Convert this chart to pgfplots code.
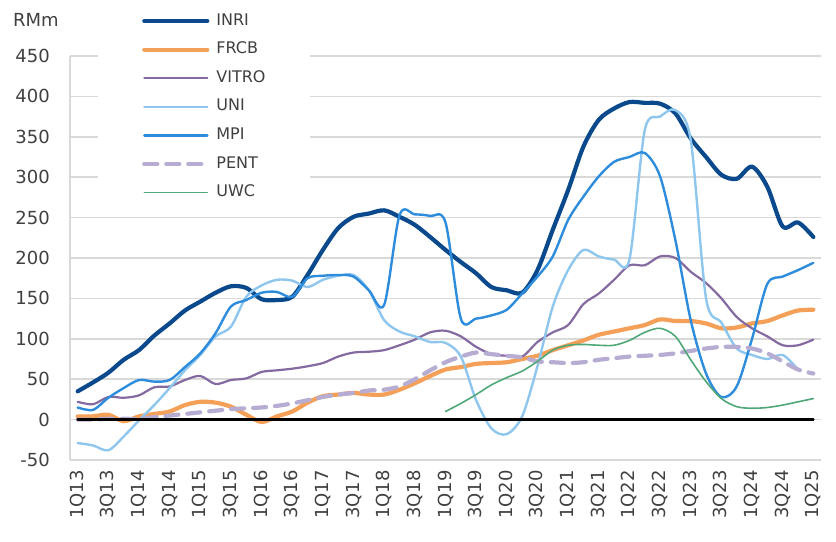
\documentclass[border=0pt]{standalone}
\usepackage{pgfplots}
\pgfplotsset{compat=1.18}
\usepackage{pgfplotstable}
\usepackage{fontspec}
\setmainfont{DejaVu Sans}

\definecolor{inri}{RGB}{10,74,140}
\definecolor{frcb}{RGB}{245,160,88}
\definecolor{vitro}{RGB}{132,106,160}
\definecolor{uni}{RGB}{142,198,238}
\definecolor{mpi}{RGB}{46,140,220}
\definecolor{pent}{RGB}{183,172,209}
\definecolor{uwc}{RGB}{80,168,120}
\definecolor{gridgray}{RGB}{217,217,217}
\definecolor{txtgray}{RGB}{64,64,64}

\newcommand\tf{\fontsize{18bp}{21bp}\selectfont}
\newcommand\lf{\fontsize{16bp}{19bp}\selectfont}

% quarterly values, 1Q13 = 0 ... 1Q25 = 48
\pgfplotstableread{
i  INRI FRCB VITRO UNI MPI PENT UWC
0  35   4    22   -29  15  0   nan
1  46   4    19   -32  12  0   nan
2  58   6    28   -38  27  1   nan
3  74   -2   27   -21  39  1   nan
4  86   4    30   -1   49  1   nan
5  104  7    40   18   47  3   nan
6  119  10   41   39   49  5   nan
7  135  18   49   61   65  7   nan
8  146  22   54   80   82  9   nan
9  157  21   44   103  107 11  nan
10 165  16   49   115  140 13  nan
11 163  6    51   152  148 14  nan
12 149  -3   59   166  157 15  nan
13 148  4    61   173  158 17  nan
14 152  10   63   172  152 20  nan
15 179  21   66   164  175 24  nan
16 210  29   70   173  178 28  nan
17 237  31   78   178  179 31  nan
18 251  33   83   179  177 33  nan
19 255  31   84   160  160 36  nan
20 259  31   86   123  142 37  nan
21 251  37   92   109  253 41  nan
22 241  45   99   103  254 50  nan
23 226  54   108  96   252 61  nan
24 210  62   110  95   244 71  10
25 195  65   103  78   125 78  20
26 181  69   90   24   125 83  31
27 164  70   81   -11  129 81  43
28 160  71   79   -18  136 79  52
29 157  75   78   4    156 77  60
30 185  79   96   66   177 72  72
31 235  86   108  140  202 71  86
32 284  92   117  185  247 70  92
33 338  98   143  210  276 71  93
34 371  105  156  202  301 74  92
35 385  109  173  198  319 76  92
36 393  113  191  198  325 78  98
37 392  117  191  358  330 79  108
38 391  124  202  375  301 80  113
39 379  122  200  383  222 82  103
40 348  122  183  346  123 85  74
41 325  119  169  150  57  88  47
42 303  113  150  120  28  90  26
43 298  114  127  88   41  90  16
44 313  119  113  80   100 88  14
45 288  122  103  75   168 82  15
46 239  129  92   80   177 72  18
47 244  135  92   62   185 62  22
48 226  136  99   nan  194 57  26
}\data

\begin{document}
\begin{tikzpicture}
\begin{axis}[
    at={(0,0)}, anchor=south west,
    scale only axis, width=751bp, height=404bp,
    xmin=-0.5, xmax=48.5, ymin=-50, ymax=450,
    xtick={0,2,...,48},
    xticklabels={1Q13,3Q13,1Q14,3Q14,1Q15,3Q15,1Q16,3Q16,1Q17,3Q17,1Q18,3Q18,1Q19,3Q19,1Q20,3Q20,1Q21,3Q21,1Q22,3Q22,1Q23,3Q23,1Q24,3Q24,1Q25},
    ytick={-50,0,...,450},
    axis lines=left,
    axis line style={-, draw=gridgray, line width=1.5bp},
    ymajorgrids, grid style={gridgray, line width=1.5bp},
    major tick length=0pt,
    tick label style={font=\tf, text=txtgray},
    xticklabel style={rotate=90, anchor=east, inner sep=0pt},
    yticklabel style={anchor=east, inner sep=0pt},
    xticklabel shift=10bp, yticklabel shift=20bp,
    /pgf/number format/assume math mode=true,
    every axis plot/.append style={smooth, line cap=round, line join=round},
    legend cell align=left,
    legend image code/.code={\draw[#1] (0bp,0bp) -- (63bp,0bp);},
    legend style={at={(axis description cs:0.0373,1.118)}, anchor=north west,
        draw=none, fill=white, inner xsep=44bp, inner ysep=5bp,
        row sep=13.6bp, font=\lf, text=txtgray,
        nodes={inner sep=0pt, text height=11.6bp, text depth=3.4bp},
        /tikz/every odd column/.append style={column sep=7bp}},
]
\addplot[inri, line width=4.2bp] table[x=i, y=INRI] {\data};
\addlegendentry{INRI}
\addplot[frcb, line width=4.2bp] table[x=i, y=FRCB] {\data};
\addlegendentry{FRCB}
\addplot[vitro, line width=2.2bp] table[x=i, y=VITRO] {\data};
\addlegendentry{VITRO}
\addplot[uni, line width=2.4bp] table[x=i, y=UNI] {\data};
\addlegendentry{UNI}
\addplot[mpi, line width=2.4bp] table[x=i, y=MPI] {\data};
\addlegendentry{MPI}
\addplot[pent, line width=4.2bp, dash pattern=on 13bp off 9bp] table[x=i, y=PENT] {\data};
\addlegendentry{PENT}
\addplot[uwc, line width=1.6bp] table[x=i, y=UWC] {\data};
\addlegendentry{UWC}
\addplot[black, line width=2.5bp, forget plot, sharp plot] coordinates {(0,0) (48,0)};
\end{axis}
\node[anchor=west, inner sep=0pt, font=\tf, text=txtgray] at (-57bp,440bp) {RMm};
\pgfresetboundingbox
\path (-70bp,-82bp) rectangle (766bp,460bp);
\end{tikzpicture}
\end{document}
